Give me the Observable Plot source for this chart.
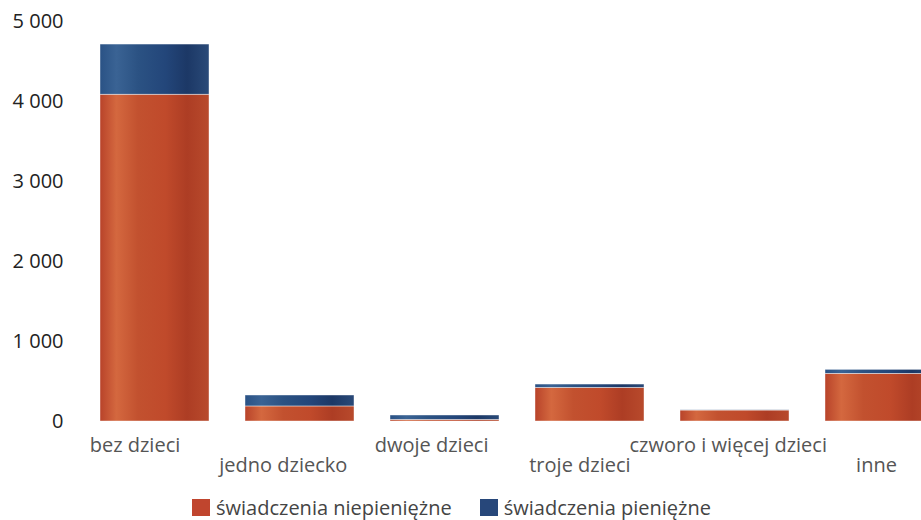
<!DOCTYPE html>
<html>
<head>
<meta charset="utf-8">
<script src="https://cdn.jsdelivr.net/npm/d3@7"></script>
<script src="https://cdn.jsdelivr.net/npm/@observablehq/plot@0.6"></script>
<style>
  html, body { margin: 0; padding: 0; background: #fff; overflow: hidden; width: 921px; height: 520px; }
  #chart { position: relative; width: 950px; }
  .legend { display: flex; align-items: center; font-family: "Open Sans", sans-serif; font-size: 20px; color: #444; height: 44px; padding-left: 192px; }
  .legend .item { display: flex; align-items: center; margin-right: 28px; }
  .legend .sw { width: 18px; height: 17px; margin-right: 6px; }
</style>
</head>
<body>
<div id="chart"></div>
<script>
const categories = ["bez dzieci", "jedno dziecko", "dwoje dzieci", "troje dzieci", "czworo i więcej dzieci", "inne"];
const series = ["świadczenia niepieniężne", "świadczenia pieniężne"];
const niepieniezne = [4085, 188, 20, 420, 137, 596];
const pieniezne = [627, 137, 55, 42, 5, 50];
const yTicks = [0, 1000, 2000, 3000, 4000, 5000];
const seriesColors = ["#c0452e", "#27477a"];

const data = [];
categories.forEach((c, i) => {
  data.push({ cat: c, series: series[0], value: niepieniezne[i] });
  data.push({ cat: c, series: series[1], value: pieniezne[i] });
});

const fmt = d3.formatLocale({ decimal: ",", thousands: " ", grouping: [3], currency: ["", ""] }).format(",d");

// category labels: staggered in two rows, slightly left of bar centres
const labelMarks = categories.map((c, i) =>
  Plot.axisX([c], {
    tickSize: 0,
    tickPadding: i % 2 === 0 ? 16 : 36,
    fontSize: 20,
    fill: "#555",
    dx: -20 + 3.3 * i,
    label: null
  })
);

const plot = Plot.plot({
  width: 950,
  height: 485,
  marginLeft: 100,
  marginRight: 16,
  marginTop: 21,
  marginBottom: 64,
  style: { fontFamily: "Open Sans, sans-serif", background: "transparent" },
  x: { domain: categories, paddingInner: 0.25, paddingOuter: 0, axis: null, label: null },
  y: { domain: [0, 5000], axis: null, label: null },
  color: { domain: series, range: ["url(#gRed)", "url(#gBlue)"] },
  marks: [
    Plot.axisY(yTicks, { tickSize: 0, tickPadding: 37, tickFormat: fmt, fontSize: 20, fill: "#222", label: null }),
    Plot.barY(data, { x: "cat", y: "value", fill: "series", stroke: "#fff", strokeWidth: 0.6, strokeOpacity: 0.7 }),
    ...labelMarks
  ]
});

// gradients giving the bars their shaded look
const ns = "http://www.w3.org/2000/svg";
const defs = document.createElementNS(ns, "defs");
function grad(id, stops) {
  const g = document.createElementNS(ns, "linearGradient");
  g.setAttribute("id", id);
  g.setAttribute("x1", "0"); g.setAttribute("x2", "1"); g.setAttribute("y1", "0"); g.setAttribute("y2", "0");
  stops.forEach(([o, c]) => {
    const s = document.createElementNS(ns, "stop");
    s.setAttribute("offset", o); s.setAttribute("stop-color", c);
    g.appendChild(s);
  });
  defs.appendChild(g);
}
grad("gRed", [["0", "#b8432a"], ["0.15", "#d4683f"], ["0.35", "#c2512f"], ["0.6", "#c04a2b"], ["0.8", "#ad3d24"], ["1", "#b84a2c"]]);
grad("gBlue", [["0", "#2a5285"], ["0.15", "#3a6394"], ["0.35", "#2b5283"], ["0.6", "#23467a"], ["0.8", "#1c3866"], ["1", "#2a4a78"]]);
plot.insertBefore(defs, plot.firstChild);

document.getElementById("chart").appendChild(plot);

const legend = document.createElement("div");
legend.className = "legend";
series.forEach((s, i) => {
  const item = document.createElement("div");
  item.className = "item";
  const sw = document.createElement("span");
  sw.className = "sw";
  sw.style.background = seriesColors[i];
  item.appendChild(sw);
  item.appendChild(document.createTextNode(s));
  legend.appendChild(item);
});
document.getElementById("chart").appendChild(legend);
</script>
</body>
</html>
